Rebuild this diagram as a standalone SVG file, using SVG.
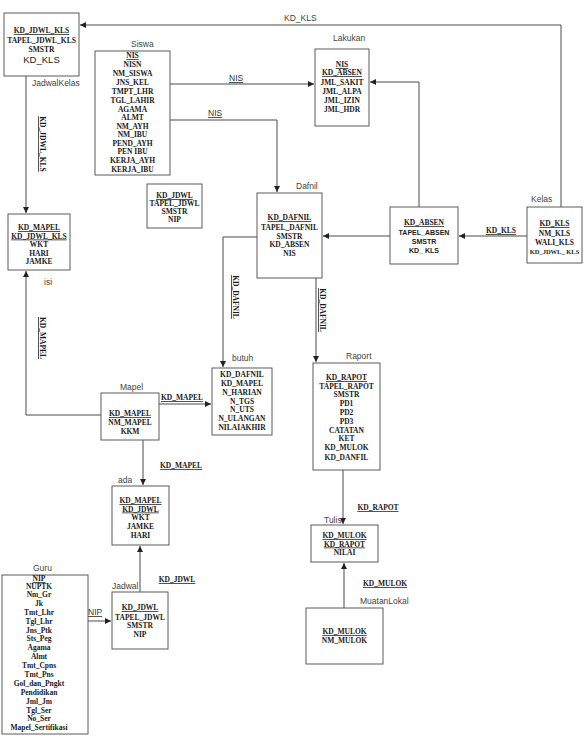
<svg xmlns="http://www.w3.org/2000/svg" width="584" height="738" viewBox="0 0 584 738">
<style>
  .bg { fill: #ffffff; }
  .box { fill: #ffffff; stroke: #5a5a5a; stroke-width: 1; }
  .ln { fill: none; stroke: #4a4a4a; stroke-width: 1; }
  .a { font-family: "Liberation Serif", "Times New Roman", serif; font-weight: bold; font-size: 7.5px; fill: #1a1a1a; text-anchor: middle; }
  .s { font-family: "Liberation Sans", Arial, sans-serif; font-weight: bold; font-size: 7px; fill: #1a1a1a; text-anchor: middle; }
  .u { text-decoration: underline; }
  .lbl { font-family: "Liberation Sans", Arial, sans-serif; font-size: 8.5px; fill: #444444; }
  .rl { font-family: "Liberation Sans", Arial, sans-serif; font-size: 8.5px; fill: #333333; text-decoration: underline; }
</style>
<defs>
  <marker id="arr" viewBox="0 0 10 10" refX="10" refY="5" markerWidth="6" markerHeight="6" orient="auto" markerUnits="userSpaceOnUse">
    <path d="M0,0 L10,5 L0,10 z" fill="#222222"/>
  </marker>
</defs>
<rect class="bg" x="0" y="0" width="584" height="738"/>

<!-- relationships -->
<g id="connectors">
  <path class="ln" d="M561,207 V25 H80" marker-end="url(#arr)"/>
  <text class="lbl" x="284" y="21">KD_KLS</text>
  <path class="ln" d="M26,76 V213" marker-end="url(#arr)"/>
  <text class="a u" transform="translate(40,144) rotate(90)">KD_JDWL_KLS</text>
  <path class="ln" d="M170,84 H314" marker-end="url(#arr)"/>
  <text class="rl" x="229" y="81">NIS</text>
  <path class="ln" d="M170,120 H277 V192" marker-end="url(#arr)"/>
  <text class="rl" x="208" y="116">NIS</text>
  <path class="ln" d="M419,207 V82 H370" marker-end="url(#arr)"/>
  <path class="ln" d="M527,236 H459" marker-end="url(#arr)"/>
  <text class="a u" x="501" y="233">KD_KLS</text>
  <path class="ln" d="M390,236 H323" marker-end="url(#arr)"/>
  <path class="ln" d="M257,237 H223 V367" marker-end="url(#arr)"/>
  <text class="a u" transform="translate(233,297) rotate(90)">KD_DAFNIL</text>
  <path class="ln" d="M316,278 V362" marker-end="url(#arr)"/>
  <text class="a u" transform="translate(320,310) rotate(90)">KD_DAFNIL</text>
  <path class="ln" d="M159,404 H211" marker-end="url(#arr)"/>
  <text class="a u" x="182" y="400">KD_MAPEL</text>
  <path class="ln" d="M101,415 H26 V271" marker-end="url(#arr)"/>
  <text class="a u" transform="translate(40,338) rotate(90)">KD_MAPEL</text>
  <path class="ln" d="M143,440 V485" marker-end="url(#arr)"/>
  <text class="a u" x="181" y="468">KD_MAPEL</text>
  <path class="ln" d="M140,592 V546" marker-end="url(#arr)"/>
  <text class="a u" x="177" y="582">KD_JDWL</text>
  <path class="ln" d="M88,621 H111" marker-end="url(#arr)"/>
  <text class="rl" x="88" y="615">NIP</text>
  <path class="ln" d="M343,470 V524" marker-end="url(#arr)"/>
  <text class="a u" x="378" y="510">KD_RAPOT</text>
  <path class="ln" d="M344,608 V563" marker-end="url(#arr)"/>
  <text class="a u" x="385" y="586">KD_MULOK</text>
</g>

<g id="jadwalkelas">
  <rect class="box" x="4" y="13" width="75" height="63"/>
  <text class="a u" x="41.5" y="33">KD_JDWL_KLS</text>
  <text class="a" x="41.5" y="43">TAPEL_JDWL_KLS</text>
  <text class="a" x="41.5" y="52">SMSTR</text>
  <text class="lbl" x="41.5" y="63" style="font-size:9.5px;text-anchor:middle;fill:#222">KD_KLS</text>
  <text class="lbl" x="32" y="86">JadwalKelas</text>
</g>

<g id="siswa">
  <rect class="box" x="95" y="51" width="75" height="124"/>
  <text class="lbl" x="131" y="47">Siswa</text>
  <text class="a u" x="132.5" y="58">NIS</text>
  <text class="a" x="132.5" y="67">NISN</text>
  <text class="a" x="132.5" y="76">NM_SISWA</text>
  <text class="a" x="132.5" y="85">JNS_KEL</text>
  <text class="a" x="132.5" y="94">TMPT_LHR</text>
  <text class="a" x="132.5" y="103">TGL_LAHIR</text>
  <text class="a" x="132.5" y="112">AGAMA</text>
  <text class="a" x="132.5" y="120">ALMT</text>
  <text class="a" x="132.5" y="129">NM_AYH</text>
  <text class="a" x="132.5" y="137">NM_IBU</text>
  <text class="a" x="132.5" y="146">PEND_AYH</text>
  <text class="a" x="132.5" y="154">PEN IBU</text>
  <text class="a" x="132.5" y="163">KERJA_AYH</text>
  <text class="a" x="132.5" y="172">KERJA_IBU</text>
</g>

<g id="lakukan">
  <rect class="box" x="315" y="49" width="54" height="77"/>
  <text class="lbl" x="333" y="41">Lakukan</text>
  <text class="a u" x="342" y="67">NIS</text>
  <text class="a u" x="342" y="75">KD_ABSEN</text>
  <text class="a" x="342" y="85">JML_SAKIT</text>
  <text class="a" x="342" y="94">JML_ALPA</text>
  <text class="a" x="342" y="103">JML_IZIN</text>
  <text class="a" x="342" y="112">JML_HDR</text>
</g>

<g id="isi">
  <rect class="box" x="8" y="214" width="62" height="56"/>
  <text class="a u" x="39" y="230">KD_MAPEL</text>
  <text class="a u" x="39" y="238.5">KD_JDWL_KLS</text>
  <text class="a" x="39" y="247">WKT</text>
  <text class="a" x="39" y="255.5">HARI</text>
  <text class="a" x="39" y="264">JAMKE</text>
  <text class="lbl" x="44" y="285">isi</text>
</g>

<g id="jadwal-detail">
  <rect class="box" x="147" y="184" width="55" height="44"/>
  <text class="a u" x="174.5" y="198">KD_JDWL</text>
  <text class="a" x="174.5" y="206">TAPEL_JDWL</text>
  <text class="a" x="174.5" y="214">SMSTR</text>
  <text class="a" x="174.5" y="222">NIP</text>
</g>

<g id="dafnil">
  <rect class="box" x="257" y="193" width="65" height="85"/>
  <text class="lbl" x="296" y="189">Dafnil</text>
  <text class="a u" x="289.5" y="220">KD_DAFNIL</text>
  <text class="a" x="289.5" y="230">TAPEL_DAFNIL</text>
  <text class="a" x="289.5" y="238.5">SMSTR</text>
  <text class="a" x="289.5" y="247">KD_ABSEN</text>
  <text class="a" x="289.5" y="256">NIS</text>
</g>

<g id="absen">
  <rect class="box" x="390" y="207" width="68" height="57"/>
  <text class="a u" x="424" y="225">KD_ABSEN</text>
  <text class="s" x="424" y="235">TAPEL_ABSEN</text>
  <text class="s" x="424" y="244">SMSTR</text>
  <text class="s" x="424" y="253">KD_ KLS</text>
</g>

<g id="kelas">
  <rect class="box" x="527" y="207" width="55" height="56"/>
  <text class="lbl" x="531" y="202">Kelas</text>
  <text class="a u" x="554.5" y="226">KD_KLS</text>
  <text class="a" x="554.5" y="236">NM_KLS</text>
  <text class="a" x="554.5" y="245">WALI_KLS</text>
  <text class="a" x="554.5" y="254" style="font-size:6.5px">KD_JDWL_ KLS</text>
</g>

<g id="butuh">
  <rect class="box" x="212" y="368" width="60" height="67"/>
  <text class="lbl" x="232" y="361">butuh</text>
  <text class="a" x="242" y="377">KD_DAFNIL</text>
  <text class="a" x="242" y="386">KD_MAPEL</text>
  <text class="a" x="242" y="395">N_HARIAN</text>
  <text class="a" x="242" y="404">N_TGS</text>
  <text class="a" x="242" y="412">N_UTS</text>
  <text class="a" x="242" y="421">N_ULANGAN</text>
  <text class="a" x="242" y="430">NILAIAKHIR</text>
</g>

<g id="raport">
  <rect class="box" x="313" y="363" width="67" height="107"/>
  <text class="lbl" x="346" y="359">Raport</text>
  <text class="a u" x="346.5" y="380">KD_RAPOT</text>
  <text class="a" x="346.5" y="388.5">TAPEL_RAPOT</text>
  <text class="a" x="346.5" y="397">SMSTR</text>
  <text class="a" x="346.5" y="406">PD1</text>
  <text class="a" x="346.5" y="415">PD2</text>
  <text class="a" x="346.5" y="424">PD3</text>
  <text class="a" x="346.5" y="433">CATATAN</text>
  <text class="a" x="346.5" y="441">KET</text>
  <text class="a" x="346.5" y="450">KD_MULOK</text>
  <text class="a" x="346.5" y="460">KD_DANFIL</text>
</g>

<g id="tulis">
  <rect class="box" x="311" y="525" width="67" height="37"/>
  <text class="lbl" x="324" y="523">Tulis</text>
  <text class="a u" x="344.5" y="538">KD_MULOK</text>
  <text class="a u" x="344.5" y="546.5">KD_RAPOT</text>
  <text class="a" x="344.5" y="555">NILAI</text>
</g>

<g id="muatanlokal">
  <rect class="box" x="306" y="608" width="77" height="56"/>
  <text class="lbl" x="360" y="604">MuatanLokal</text>
  <text class="a u" x="344.5" y="634">KD_MULOK</text>
  <text class="a" x="344.5" y="643">NM_MULOK</text>
</g>

<g id="mapel">
  <rect class="box" x="101" y="393" width="58" height="47"/>
  <text class="lbl" x="120" y="390">Mapel</text>
  <text class="a u" x="130" y="416">KD_MAPEL</text>
  <text class="a" x="130" y="425">NM_MAPEL</text>
  <text class="a" x="130" y="433.5">KKM</text>
</g>

<g id="ada">
  <rect class="box" x="112" y="486" width="57" height="59"/>
  <text class="lbl" x="118" y="483">ada</text>
  <text class="a u" x="140.5" y="503">KD_MAPEL</text>
  <text class="a u" x="140.5" y="511.5">KD_JDWL</text>
  <text class="a" x="140.5" y="520">WKT</text>
  <text class="a" x="140.5" y="529">JAMKE</text>
  <text class="a" x="140.5" y="537.5">HARI</text>
</g>

<g id="jadwal">
  <rect class="box" x="112" y="592" width="56" height="57"/>
  <text class="lbl" x="112" y="589">Jadwal</text>
  <text class="a u" x="140" y="610">KD_JDWL</text>
  <text class="a" x="140" y="620">TAPEL_JDWL</text>
  <text class="a" x="140" y="628">SMSTR</text>
  <text class="a" x="140" y="637">NIP</text>
</g>

<g id="guru">
  <rect class="box" x="2" y="575" width="86" height="159"/>
  <text class="lbl" x="33" y="571">Guru</text>
  <text class="a u" x="39" y="581">NIP</text>
  <text class="a" x="39" y="589">NUPTK</text>
  <text class="a" x="39" y="597">Nm_Gr</text>
  <text class="a" x="39" y="605.5">Jk</text>
  <text class="a" x="39" y="615">Tmt_Lhr</text>
  <text class="a" x="39" y="624">Tgl_Lhr</text>
  <text class="a" x="39" y="632.5">Jns_Ptk</text>
  <text class="a" x="39" y="641">Sts_Peg</text>
  <text class="a" x="39" y="650">Agama</text>
  <text class="a" x="39" y="659">Almt</text>
  <text class="a" x="39" y="668">Tmt_Cpns</text>
  <text class="a" x="39" y="677">Tmt_Pns</text>
  <text class="a" x="39" y="686">Gol_dan_Pngkt</text>
  <text class="a" x="39" y="694.5">Pendidikan</text>
  <text class="a" x="39" y="704">Jml_Jm</text>
  <text class="a" x="39" y="712.5">Tgl_Ser</text>
  <text class="a" x="39" y="721">No_Ser</text>
  <text class="a" x="39" y="730">Mapel_Sertifikasi</text>
</g>
</svg>
